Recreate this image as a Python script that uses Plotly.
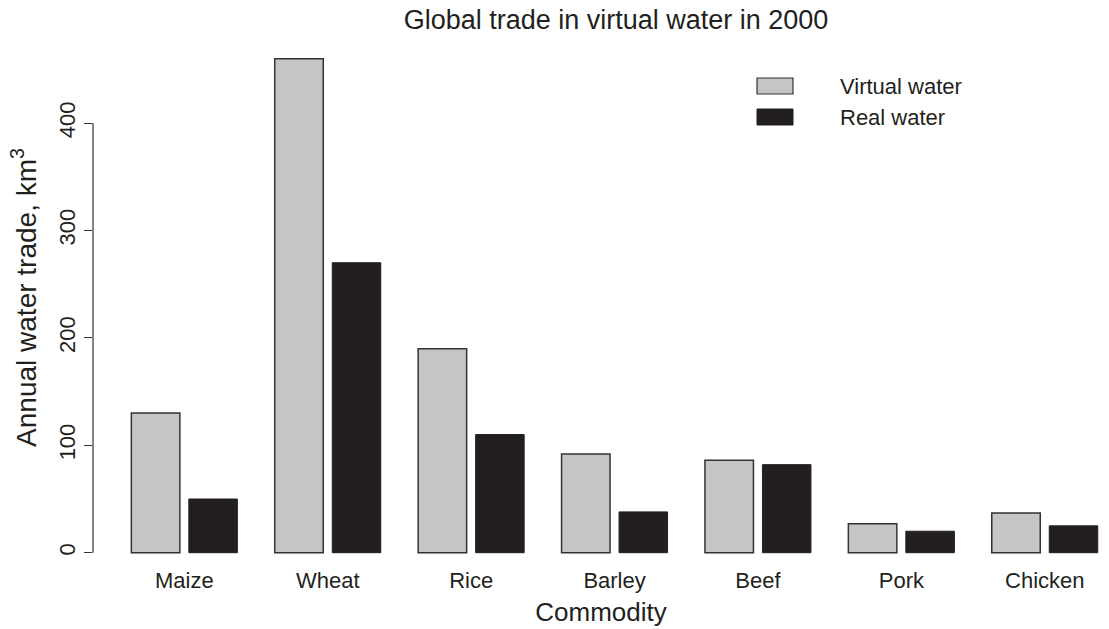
import plotly.graph_objects as go

commodities = ["Maize", "Wheat", "Rice", "Barley", "Beef", "Pork", "Chicken"]
virtual_water = [130, 460, 190, 92, 86, 27, 37]
real_water = [50, 270, 110, 38, 82, 20, 25]
y_ticks = [0, 100, 200, 300, 400]

W, H = 1109, 629
L, R, T, B = 93, 0, 39, 73
pw, ph = W - L - R, H - T - B

def px_x(p):
    return (p - L) / pw

def px_y(p):
    return (H - B - p) / ph

txt = "#231f20"
font = "Liberation Sans, Arial, Helvetica, sans-serif"

fig = go.Figure()
fig.add_trace(go.Bar(x=commodities, y=virtual_water, name="Virtual water",
                     marker=dict(color="#c4c5c7", line=dict(color="#333333", width=1.5)),
                     showlegend=False))
fig.add_trace(go.Bar(x=commodities, y=real_water, name="Real water",
                     marker=dict(color="#231f20", line=dict(color="#231f20", width=1)),
                     showlegend=False))

# axis line from 0 to 400 (R style)
fig.add_shape(type="line", xref="paper", yref="y", x0=0, x1=0, y0=y_ticks[0], y1=y_ticks[-1],
              line=dict(color="#333333", width=1.2))

# manual legend
fig.add_shape(type="rect", xref="paper", yref="paper",
              x0=px_x(757), x1=px_x(793), y0=px_y(94), y1=px_y(78),
              fillcolor="#c4c5c7", line=dict(color="#333333", width=1.2))
fig.add_shape(type="rect", xref="paper", yref="paper",
              x0=px_x(757), x1=px_x(793), y0=px_y(125), y1=px_y(109),
              fillcolor="#231f20", line=dict(color="#231f20", width=1))
fig.add_annotation(xref="paper", yref="paper", x=px_x(838), y=px_y(87), text="Virtual water",
                   showarrow=False, xanchor="left", yanchor="middle",
                   font=dict(size=22, color=txt, family=font))
fig.add_annotation(xref="paper", yref="paper", x=px_x(838), y=px_y(118), text="Real water",
                   showarrow=False, xanchor="left", yanchor="middle",
                   font=dict(size=22, color=txt, family=font))

fig.update_layout(
    width=W, height=H,
    margin=dict(l=L, r=R, t=T, b=B, pad=0),
    paper_bgcolor="white", plot_bgcolor="white",
    barmode="group", bargap=0.198, bargroupgap=0.1565,
    font=dict(family=font, color=txt),
    title=dict(text="Global trade in virtual water in 2000", xref="container", yref="container",
               x=616 / W, y=1 - 20 / H, xanchor="center", yanchor="middle",
               font=dict(size=27, color=txt, family=font)),
    xaxis=dict(range=[-0.637, 6.448], showline=False, showgrid=False, zeroline=False,
               ticks="", tickfont=dict(size=22, color=txt), ticklabelstandoff=9,
               title=dict(text="Commodity", font=dict(size=26, color=txt), standoff=10)),
    yaxis=dict(range=[-3.07, 478.3], tickvals=y_ticks, showline=False, showgrid=False,
               zeroline=False, ticks="outside", ticklen=8, tickcolor="#333333", tickwidth=1.2,
               tickangle=-90, tickfont=dict(size=22, color=txt),
               title=dict(text="Annual water trade, km<sup>3</sup>", font=dict(size=28, color=txt),
                          standoff=10)),
)

fig.write_html("out.html")
